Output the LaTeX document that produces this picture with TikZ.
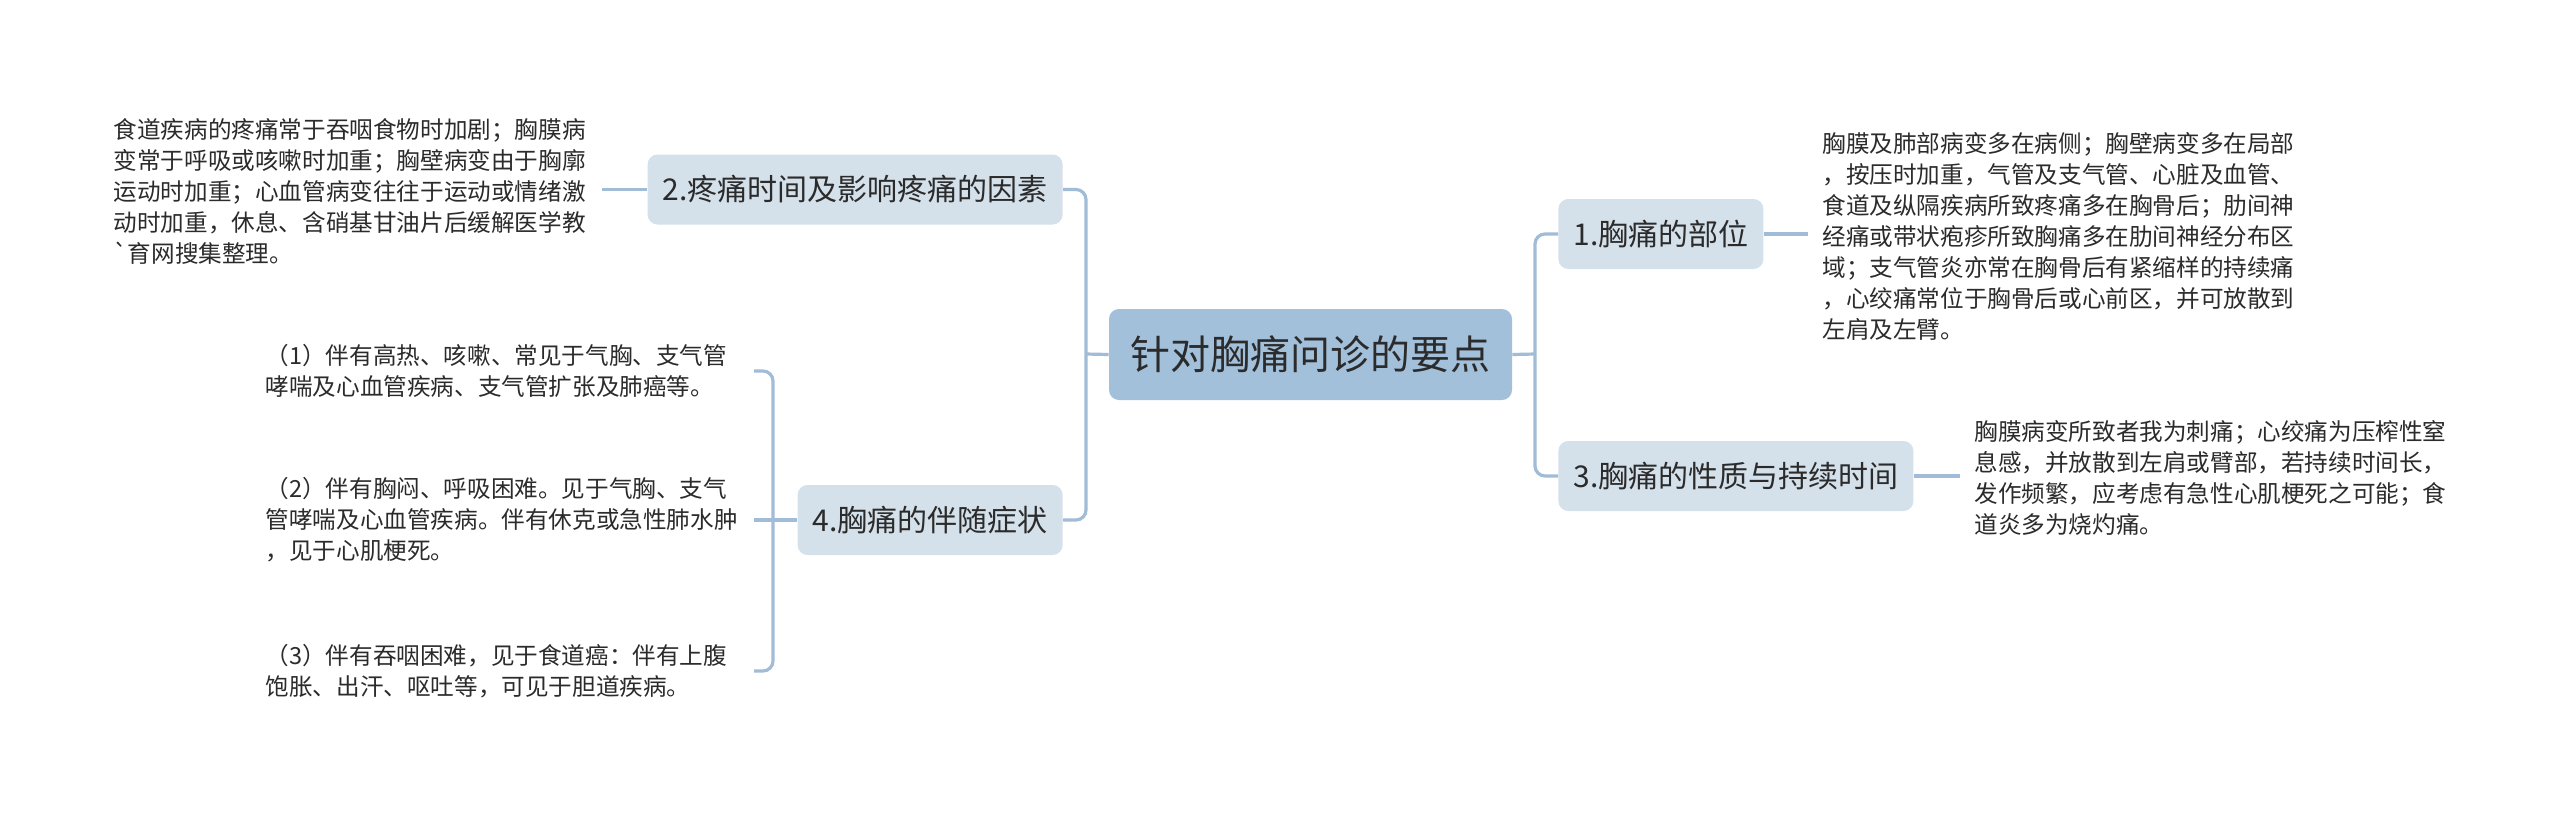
\documentclass[tikz,border=0pt]{standalone}
\usepackage{fontspec}
\setmainfont{Noto Sans CJK SC}[Ligatures=TeXOff]
\definecolor{rootblue}{HTML}{A3C0DB}
\definecolor{topicblue}{HTML}{D4E0EA}
\definecolor{linkblue}{HTML}{A0BCD6}
\definecolor{inkgray}{HTML}{2B2B2B}
\tikzset{
  rootbox/.style={fill=rootblue, rounded corners=5pt, minimum width=201.5pt, minimum height=45.5pt,
    font=\fontsize{20}{24}\selectfont, text=inkgray},
  topicbox/.style={fill=topicblue, rounded corners=5pt, inner xsep=7.5pt, minimum height=35pt,
    font=\fontsize{15}{18}\selectfont, text=inkgray},
  leaftext/.style={text width=237pt, align=left, inner xsep=7pt,
    font=\fontsize{11.8}{15.5}\selectfont, text=inkgray},
  link/.style={draw=linkblue, line width=1.6pt, rounded corners=5pt},
}
\begin{document}
\begin{tikzpicture}[x=0.5pt, y=-0.5pt]
  \useasboundingbox[fill=white] (0,0) rectangle (2560,815);
  % centre and the four topics, pixel coordinates of the 2560x815 sheet
  \node[rootbox] (root) at (1310.5,354.5) {针对胸痛问诊的要点};
  \node[topicbox, anchor=east] (pain2) at (1063,189.5) {2.疼痛时间及影响疼痛的因素};
  \node[topicbox, anchor=east] (pain4) at (1063,520) {4.胸痛的伴随症状};
  \node[topicbox, anchor=west] (pain1) at (1558,234) {1.胸痛的部位};
  \node[topicbox, anchor=west] (pain3) at (1558,476) {3.胸痛的性质与持续时间};
  \coordinate (forkL) at (1086,354);
  \coordinate (forkR) at (1535,354);
  \coordinate (forkB) at (773,520);
  % leaf texts
  \node[leaftext, anchor=east] (note2) at (602,191) {食道疾病的疼痛常于吞咽食物时加剧；胸膜病\\变常于呼吸或咳嗽时加重；胸壁病变由于胸廓\\运动时加重；心血管病变往往于运动或情绪激\\动时加重，休息、含硝基甘油片后缓解医学教\\`育网搜集整理。};
  \node[leaftext, anchor=west] (note1) at (1808,236) {胸膜及肺部病变多在病侧；胸壁病变多在局部\\，按压时加重，气管及支气管、心脏及血管、\\食道及纵隔疾病所致疼痛多在胸骨后；肋间神\\经痛或带状疱疹所致胸痛多在肋间神经分布区\\域；支气管炎亦常在胸骨后有紧缩样的持续痛\\，心绞痛常位于胸骨后或心前区，并可放散到\\左肩及左臂。};
  \node[leaftext, anchor=west] (note3) at (1960,478) {胸膜病变所致者我为刺痛；心绞痛为压榨性窒\\息感，并放散到左肩或臂部，若持续时间长，\\发作频繁，应考虑有急性心肌梗死之可能；食\\道炎多为烧灼痛。};
  \node[leaftext, anchor=east] (sign1) at (754,371) {（1）伴有高热、咳嗽、常见于气胸、支气管\\哮喘及心血管疾病、支气管扩张及肺癌等。};
  \node[leaftext, anchor=east] (sign2) at (754,520) {（2）伴有胸闷、呼吸困难。见于气胸、支气\\管哮喘及心血管疾病。伴有休克或急性肺水肿\\，见于心肌梗死。};
  \node[leaftext, anchor=east] (sign3) at (754,671) {（3）伴有吞咽困难，见于食道癌：伴有上腹\\饱胀、出汗、呕吐等，可见于胆道疾病。};
  % connectors
  \draw[link] (root.west) -- (forkL);
  \draw[link] (pain2.east) -| (forkL) |- (pain4.east);
  \draw[link] (root.east) -- (forkR);
  \draw[link] (pain1.west) -| (forkR) |- (pain3.west);
  \draw[link] (pain2.west) -- (pain2.west -| note2.east);
  \draw[link] (pain1.east) -- (pain1.east -| note1.west);
  \draw[link] (pain3.east) -- (pain3.east -| note3.west);
  \draw[link] (sign1.east) -| (forkB) |- (sign3.east);
  \draw[link] (sign2.east) -- (pain4.west);
\end{tikzpicture}
\end{document}
